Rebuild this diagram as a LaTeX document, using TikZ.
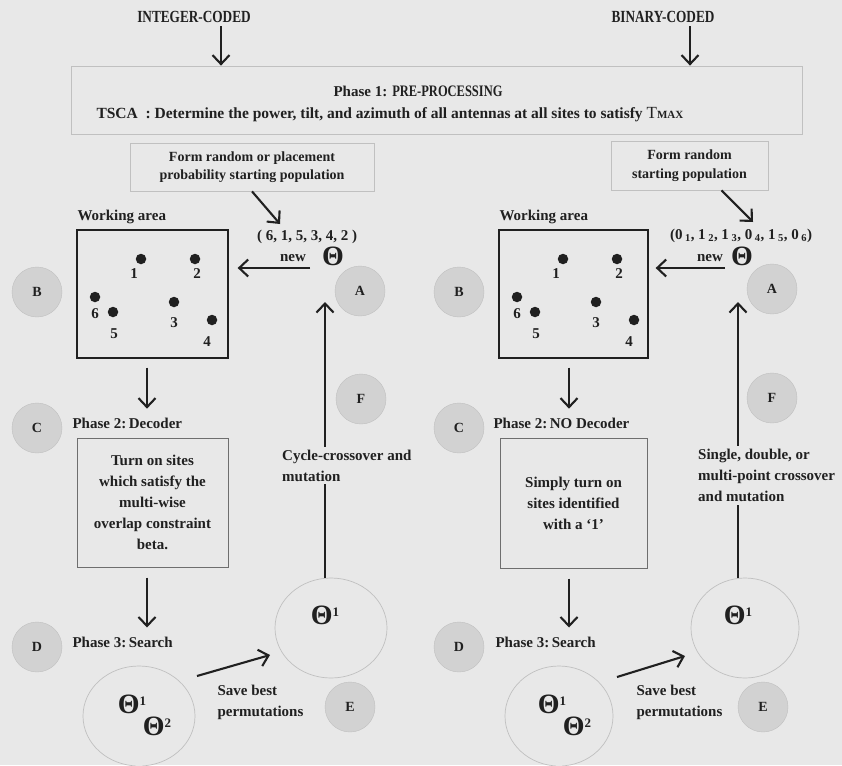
\documentclass[tikz,border=0pt]{standalone}
\usepackage{fontspec}
\setmainfont{Liberation Serif}
\newfontfamily\narrowfont{Liberation Serif}[FakeStretch=0.78]
\usetikzlibrary{arrows.meta,shapes.geometric}

\definecolor{paper}{RGB}{232,232,232}
\definecolor{ink}{RGB}{32,32,32}
\definecolor{rim}{RGB}{192,192,192}
\definecolor{disc}{RGB}{210,210,210}

\newcommand{\Th}{{\fontsize{28}{28}\selectfont Θ}}
\newcommand{\up}[1]{\raisebox{8pt}{\fontsize{13}{13}\selectfont #1}}

\begin{document}
\begin{tikzpicture}[x=1pt,y=-1pt,
    font=\bfseries\fontsize{15}{21}\selectfont,text=ink,
    arr/.style={draw=ink,line width=2.1pt,-{Straight Barb[length=9pt,width=17pt]}},
    pale/.style={draw=rim,line width=0.8pt},
    area/.style={draw=ink,line width=1.3pt},
    decbox/.style={draw=ink!65,line width=1pt,align=center},
    tag/.style={circle,draw=rim,fill=disc,minimum size=50pt,inner sep=0pt,
      font=\bfseries\fontsize{14}{14}\selectfont},
    pool/.style={ellipse,draw=rim,line width=0.7pt,minimum width=112pt,minimum height=100pt},
    site/.style={circle,fill=ink,minimum size=10.5pt,inner sep=0pt},
    head/.style={font=\narrowfont\bfseries\fontsize{17}{17}\selectfont},
    note/.style={align=left,fill=paper,inner sep=3pt}]
  \useasboundingbox[fill=paper] (0,0) rectangle (842,765);

  % phase 1, shared by both codings
  \node[head] (intH) at (194,17) {INTEGER-CODED};
  \node[head] (binH) at (663,17) {BINARY-CODED};
  \node[pale,minimum width=731,minimum height=68] (pre) at (436.5,100) {};
  \node (preT) at (418,91) {Phase 1: {\narrowfont\fontsize{16}{16}\selectfont PRE-PROCESSING}};
  \node[anchor=west,font=\bfseries\fontsize{15.5}{21}\selectfont] (tsca) at (93,115) {TSCA\enspace: Determine the power, tilt, and azimuth of all antennas at all sites to satisfy {\mdseries\fontsize{17}{17}\selectfont T}{\fontsize{11}{11}\selectfont MAX}};
  \draw[arr] ([xshift=27pt]intH.south) -- ([xshift=27pt]intH.south |- pre.north);
  \draw[arr] ([xshift=27pt]binH.south) -- ([xshift=27pt]binH.south |- pre.north);

  % starting populations
  \node[pale,align=center,font=\bfseries\fontsize{14}{18.5}\selectfont,
    minimum width=244,minimum height=48] (formL) at (252,167)
    {Form random or placement\\probability starting population};
  \node[pale,align=center,font=\bfseries\fontsize{14}{18.5}\selectfont,
    minimum width=157,minimum height=49] (formR) at (689.5,165.5)
    {Form random\\starting population};
  \node (tupL) at (307,237) {( 6, 1, 5, 3, 4, 2 )};
  \node (tupR) at (741,236) {(0\,\textsubscript{1}, 1\,\textsubscript{2}, 1\,\textsubscript{3}, 0\,\textsubscript{4}, 1\,\textsubscript{5}, 0\,\textsubscript{6})};
  \node (newL) at (293,258) {new};
  \node[inner sep=0pt] (thL) at (333,256) {\Th};
  \node (newR) at (710,258) {new};
  \node[inner sep=0pt] (thR) at (742,256) {\Th};
  \coordinate (popL) at (280,224);
  \coordinate (popR) at (753,222);
  \draw[arr] (formL.south) -- (popL);
  \draw[arr] ([xshift=32pt]formR.south) -- (popR);

  % working areas with the six sites
  \node[anchor=west] (waL) at (74,217) {Working area};
  \node[anchor=west] (waR) at (496,217) {Working area};
  \node[area,minimum width=151,minimum height=128] (workL) at (152.5,294) {};
  \node[area,minimum width=149,minimum height=128] (workR) at (573.5,294) {};
  \foreach \sd/\sx in {L/77,R/499}{
    \foreach \n/\dx/\dy/\lx/\ly in {1/64/29/57/44,2/118/29/120/44,3/97/72/97/93,
        4/135/90/130/112,5/36/82/37/104,6/18/67/18/84}{
      \node[site] (site\sd\n) at (\sx+\dx,230+\dy) {};
      \node (num\sd\n) at (\sx+\lx,230+\ly) {\n};
    }
  }
  \coordinate (nwL) at (310,268);
  \coordinate (nwR) at (725,268);
  \draw[arr,shorten >=9pt] (nwL) -- (nwL -| workL.east);
  \draw[arr,shorten >=7pt] (nwR) -- (nwR -| workR.east);

  % phase 2
  \draw[arr,shorten <=9pt] ([xshift=-5.5pt]workL.south) -- ++(0,50);
  \draw[arr,shorten <=9pt] ([xshift=-4.5pt]workR.south) -- ++(0,50);
  \node[anchor=west] (ph2L) at (69,423) {Phase 2:\,Decoder};
  \node[anchor=west] (ph2R) at (490,423) {Phase 2:\,NO Decoder};
  \node[decbox,minimum width=151,minimum height=129] (decL) at (152.5,502.5)
    {Turn on sites\\which satisfy the\\multi-wise\\overlap constraint\\beta.};
  \node[decbox,minimum width=147,minimum height=130] (decR) at (573.5,503)
    {Simply turn on\\sites identified\\with a `1'};

  % phase 3
  \draw[arr,shorten <=10pt] ([xshift=-5.5pt]decL.south) -- ++(0,60);
  \draw[arr,shorten <=10pt] ([xshift=-4.5pt]decR.south) -- ++(0,59);
  \node[anchor=west] (ph3L) at (69,642) {Phase 3:\,Search};
  \node[anchor=west] (ph3R) at (492,642) {Phase 3:\,Search};
  \node[pool] (poolL) at (139,716) {};
  \node[pool,minimum width=108pt] (poolR) at (559,716) {};
  \node (p1L) at (132,704) {\Th\up{1}};
  \node (p2L) at (157,726) {\Th\up{2}};
  \node (p1R) at (552,704) {\Th\up{1}};
  \node (p2R) at (577,726) {\Th\up{2}};
  \node[pool] (bestL) at (331,628) {};
  \node[pool,minimum width=108pt] (bestR) at (745,628) {};
  \node (b1L) at (325,615) {\Th\up{1}};
  \node (b1R) at (738,615) {\Th\up{1}};
  \coordinate (svaL) at (197,676);
  \coordinate (svbL) at (270,655);
  \coordinate (svaR) at (617,677);
  \coordinate (svbR) at (685,656);
  \draw[arr] (svaL) -- (svbL);
  \draw[arr] (svaR) -- (svbR);
  \node[anchor=west,align=left] (svL) at (214,702) {Save best\\permutations};
  \node[anchor=west,align=left] (svR) at (633,702) {Save best\\permutations};

  % crossover back to a new population
  \coordinate (upL) at (325,302);
  \coordinate (upR) at (738,302);
  \draw[arr] ([xshift=-6pt]bestL.north) -- (upL);
  \draw[arr] ([xshift=-7pt]bestR.north) -- (upR);
  \node[note,anchor=west] (cycL) at (279,465.5) {Cycle-crossover and\\mutation};
  \node[note,anchor=west] (cycR) at (695,475.5) {Single, double, or\\multi-point crossover\\and mutation};

  % step markers
  \node[tag] (tagBL) at (37,292) {B};
  \node[tag] (tagAL) at (360,291) {A};
  \node[tag] (tagCL) at (37,428) {C};
  \node[tag] (tagFL) at (361,399) {F};
  \node[tag] (tagDL) at (37,647) {D};
  \node[tag] (tagEL) at (350,707) {E};
  \node[tag] (tagBR) at (459,292) {B};
  \node[tag] (tagAR) at (772,289) {A};
  \node[tag] (tagCR) at (459,428) {C};
  \node[tag] (tagFR) at (772,398) {F};
  \node[tag] (tagDR) at (459,647) {D};
  \node[tag] (tagER) at (763,707) {E};
\end{tikzpicture}
\end{document}
